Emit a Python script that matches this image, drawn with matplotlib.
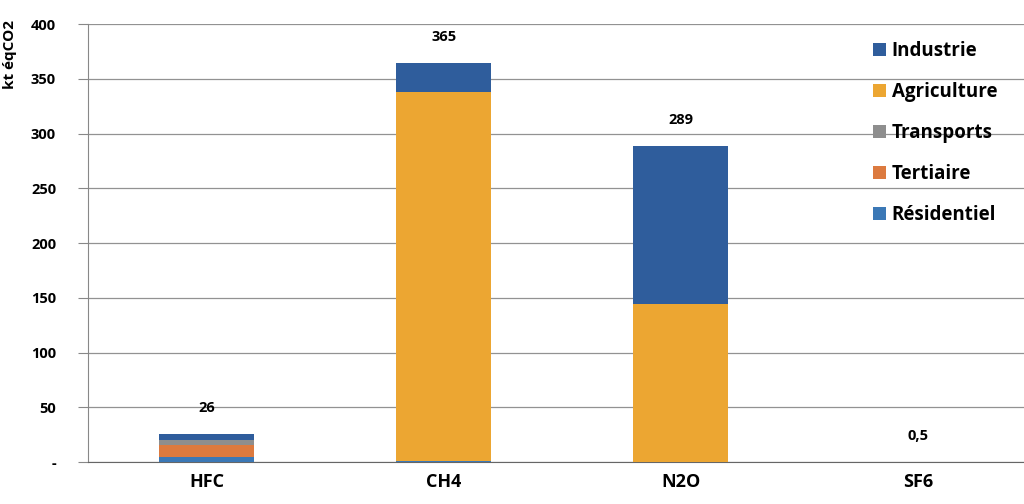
import matplotlib
matplotlib.use("Agg")
import matplotlib.pyplot as plt
import numpy as np

plt.rcParams["font.family"] = ["Open Sans", "DejaVu Sans"]
plt.rcParams["font.weight"] = "bold"

# --- Données (kt éqCO2) ---
gases = ["HFC", "CH4", "N2O", "SF6"]
sectors = ["Résidentiel", "Tertiaire", "Transports", "Agriculture", "Industrie"]
residentiel = [5, 1, 0, 0]
tertiaire = [11, 0, 0, 0]
transports = [4, 0, 0, 0]
agriculture = [0, 337, 144, 0]
industrie = [6, 27, 145, 0.5]
totals_labels = ["26", "365", "289", "0,5"]
yticks = [0, 50, 100, 150, 200, 250, 300, 350, 400]
ytick_labels = ["-", "50", "100", "150", "200", "250", "300", "350", "400"]

colors = {
    "Résidentiel": "#3b78b6",
    "Tertiaire": "#dc7a3f",
    "Transports": "#8e8e8e",
    "Agriculture": "#eca632",
    "Industrie": "#2f5d9c",
}
# ---------------------

series = dict(zip(sectors, [residentiel, tertiaire, transports, agriculture, industrie]))

fig = plt.figure(figsize=(10.24, 5.04), dpi=100)
ax = fig.add_axes([0.086, 0.083, 0.926, 0.869])

x = np.arange(len(gases))
bottom = np.zeros(len(gases))
bars = {}
for name in sectors:
    vals = np.array(series[name], dtype=float)
    bars[name] = ax.bar(x, vals, width=0.4, bottom=bottom, color=colors[name],
                        label=name, zorder=3)
    bottom += vals

# value labels above each stack
for xi, tot, txt in zip(x, bottom, totals_labels):
    ax.text(xi, tot + 17, txt, ha="center", va="bottom", fontsize=10.5,
            fontweight="bold")

ax.set_xlim(-0.5, 3.5)
ax.set_ylim(0, 400)
ax.set_yticks(yticks)
ax.set_yticklabels(ytick_labels)
ax.set_xticks(x)
ax.set_xticklabels(gases, fontsize=13, fontweight="bold")
ax.tick_params(axis="y", labelsize=10.5, length=7, color="#888888", pad=16)
ax.tick_params(axis="x", length=0, pad=8)

ax.grid(axis="y", color="#929292", linewidth=0.9, zorder=0)
for side in ["top", "right"]:
    ax.spines[side].set_visible(False)
ax.spines["left"].set_color("#888888")
ax.spines["bottom"].set_color("#666666")

ax.set_ylabel("kt éqCO2", fontsize=11, fontweight="bold")
ax.yaxis.set_label_coords(-0.075, 0.93)

handles = [bars[n] for n in reversed(sectors)]
leg = ax.legend(handles, list(reversed(sectors)), loc="upper left",
                bbox_to_anchor=(0.81, 1.0), frameon=False, fontsize=13.5,
                handlelength=0.7, handleheight=0.7, handletextpad=0.3,
                labelspacing=1.12)
for t in leg.get_texts():
    t.set_fontweight("bold")

fig.savefig("out.png", dpi=100, facecolor="white")
